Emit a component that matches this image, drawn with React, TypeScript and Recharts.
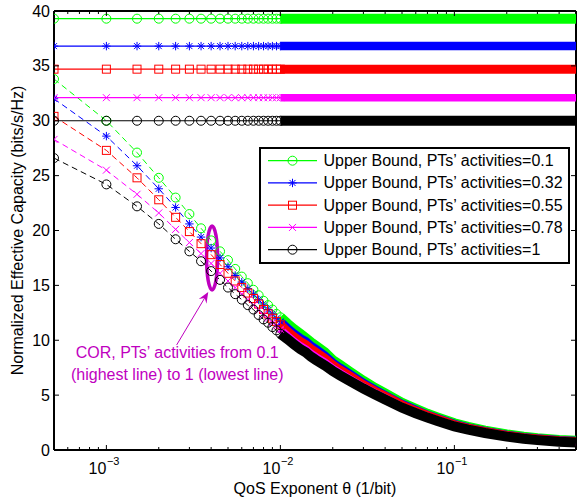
import React from "react";
import { LineChart, Line, XAxis, YAxis, ReferenceLine, ReferenceDot, Legend } from "recharts";

// QoS exponent grid (1/bit)
const THETA = [
  0.0005, 0.001, 0.0015, 0.002, 0.0025, 0.003, 0.0035, 0.004, 0.0045, 0.005,
  0.0055, 0.006, 0.0065, 0.007, 0.0075, 0.008, 0.0085, 0.009, 0.0095, 0.01,
  0.011, 0.012, 0.013, 0.014, 0.015, 0.016, 0.018, 0.02, 0.022, 0.025,
  0.03, 0.035, 0.04, 0.05, 0.06, 0.07, 0.08, 0.1, 0.12, 0.15,
  0.2, 0.25, 0.3, 0.4, 0.5,
];

const ACTIVITY = ["0.1", "0.32", "0.55", "0.78", "1"];
const UPPER = [39.3, 36.8, 34.7, 32.1, 30.0];

// COR curves, one per PTs' activity
const COR_01 = [
  33.8, 30.0, 27.1, 24.8, 23.0, 21.5, 20.2, 19.1, 18.1, 17.3,
  16.5, 15.8, 15.2, 14.6, 14.1, 13.6, 13.2, 12.8, 12.4, 12.1,
  11.5, 11.0, 10.6, 10.2, 9.8, 9.5, 8.9, 8.2, 7.75, 7.15,
  6.3, 5.65, 5.15, 4.3, 3.75, 3.3, 2.97, 2.43, 2.1, 1.77,
  1.42, 1.21, 1.08, 0.92, 0.85,
];
const COR_032 = [
  32.0, 28.6, 25.9, 23.8, 22.1, 20.6, 19.4, 18.4, 17.5, 16.7,
  15.9, 15.3, 14.7, 14.2, 13.7, 13.2, 12.8, 12.4, 12.0, 11.7,
  11.1, 10.6, 10.2, 9.9, 9.5, 9.2, 8.6, 7.95, 7.5, 6.95,
  6.1, 5.5, 5.0, 4.2, 3.65, 3.2, 2.9, 2.36, 2.04, 1.72,
  1.37, 1.16, 1.04, 0.88, 0.81,
];
const COR_055 = [
  30.4, 27.3, 24.8, 22.8, 21.2, 19.9, 18.8, 17.8, 16.9, 16.1,
  15.4, 14.8, 14.3, 13.8, 13.3, 12.8, 12.4, 12.0, 11.7, 11.4,
  10.8, 10.3, 9.9, 9.6, 9.2, 8.9, 8.35, 7.75, 7.3, 6.75,
  5.95, 5.35, 4.9, 4.1, 3.55, 3.15, 2.82, 2.3, 1.98, 1.67,
  1.33, 1.12, 1.0, 0.84, 0.77,
];
const COR_078 = [
  28.3, 25.5, 23.3, 21.6, 20.1, 18.9, 17.9, 17.0, 16.1, 15.4,
  14.8, 14.2, 13.7, 13.2, 12.7, 12.3, 12.0, 11.6, 11.3, 11.0,
  10.4, 9.9, 9.5, 9.2, 8.8, 8.5, 8.0, 7.45, 7.05, 6.5,
  5.75, 5.2, 4.75, 3.95, 3.45, 3.05, 2.73, 2.22, 1.91, 1.6,
  1.27, 1.07, 0.94, 0.79, 0.72,
];
const COR_1 = [
  26.6, 24.2, 22.2, 20.6, 19.2, 18.1, 17.2, 16.3, 15.5, 14.8,
  14.2, 13.7, 13.2, 12.8, 12.3, 11.9, 11.6, 11.2, 10.9, 10.6,
  10.1, 9.6, 9.2, 8.9, 8.5, 8.2, 7.7, 7.2, 6.8, 6.3,
  5.6, 5.05, 4.6, 3.85, 3.35, 2.95, 2.65, 2.15, 1.85, 1.55,
  1.22, 1.02, 0.9, 0.75, 0.68,
];
const COR = [COR_01, COR_032, COR_055, COR_078, COR_1];

const COLORS = ["#00ff00", "#0000ff", "#ff0000", "#ff00ff", "#000000"];
const SHAPES = ["circle", "star", "square", "cross", "circle"];
const BAND_WIDTH: Record<string, number> = { circle: 10, star: 8.5, square: 9, cross: 7.5 };
const BAND_FROM = 0.01; // markers merge into a solid band from here on

const Y_TICKS = [0, 5, 10, 15, 20, 25, 30, 35, 40];
const X_MAJOR = [0.001, 0.01, 0.1];
const X_MAJOR_EXP = ["−3", "−2", "−1"];
const X_MINOR = [
  0.0006, 0.0007, 0.0008, 0.0009,
  0.002, 0.003, 0.004, 0.005, 0.006, 0.007, 0.008, 0.009,
  0.02, 0.03, 0.04, 0.05, 0.06, 0.07, 0.08, 0.09,
  0.2, 0.3, 0.4, 0.5,
];

const FONT = "'Liberation Sans', Arial, Helvetica, sans-serif";
const PURPLE = "#bf00bf";
const W = 578;
const H = 501;
const TOP = 11;
const BOTTOM = 450;
const LEFT = 54;
const RIGHT = 576;

const rows = THETA.map((t, k) => {
  const r: Record<string, number | null> = { theta: t };
  COR.forEach((c, i) => {
    r[`ub${i}`] = UPPER[i];
    r[`cor${i}`] = c[k];
    r[`ubBand${i}`] = t >= BAND_FROM ? UPPER[i] : null;
    r[`corBand${i}`] = t >= BAND_FROM ? c[k] : null;
  });
  return r;
});

function Marker({ shape, cx, cy, color }: { shape: string; cx: number; cy: number; color: string }) {
  if (shape === "circle") return <circle cx={cx} cy={cy} r={4.5} fill="none" stroke={color} strokeWidth={1} />;
  if (shape === "square")
    return <rect x={cx - 4} y={cy - 4} width={8} height={8} fill="none" stroke={color} strokeWidth={1} />;
  if (shape === "cross") {
    const s = 3.5;
    return (
      <path
        d={`M${cx - s},${cy - s}L${cx + s},${cy + s}M${cx - s},${cy + s}L${cx + s},${cy - s}`}
        stroke={color}
        strokeWidth={1}
      />
    );
  }
  const s = 4.2;
  const d = 3;
  return (
    <path
      d={`M${cx},${cy - s}V${cy + s}M${cx - s},${cy}H${cx + s}M${cx - d},${cy - d}L${cx + d},${cy + d}M${cx - d},${cy + d}L${cx + d},${cy - d}`}
      stroke={color}
      strokeWidth={1}
    />
  );
}

// markers are drawn only where they are still told apart; the band covers the rest
const makeDot = (shape: string, color: string, id: string) => (p: any) => {
  const key = `${id}-${p.index}`;
  if (p.cx == null || p.cy == null || p.value == null) return <g key={key} />;
  if (p.payload && p.payload.theta > BAND_FROM) return <g key={key} />;
  return (
    <g key={key}>
      <Marker shape={shape} cx={p.cx} cy={p.cy} color={color} />
    </g>
  );
};

function XTick(props: any) {
  const { x, payload } = props;
  const v = payload.value;
  const major = X_MAJOR.indexOf(v);
  const len = major >= 0 ? 5 : 3;
  return (
    <g>
      <line x1={x} x2={x} y1={BOTTOM} y2={BOTTOM - len} stroke="#000" strokeWidth={1} />
      <line x1={x} x2={x} y1={TOP} y2={TOP + len} stroke="#000" strokeWidth={1} />
      {major >= 0 && (
        <text x={x} y={BOTTOM + 24} fontFamily={FONT} fontSize={16} fill="#000">
          <tspan textAnchor="end">10</tspan>
        </text>
      )}
      {major >= 0 && (
        <text x={x + 0.5} y={BOTTOM + 15} fontFamily={FONT} fontSize={11} fill="#000">
          {X_MAJOR_EXP[major]}
        </text>
      )}
    </g>
  );
}

function YTick(props: any) {
  const { y, payload } = props;
  return (
    <g>
      <line x1={LEFT} x2={LEFT + 5} y1={y} y2={y} stroke="#000" strokeWidth={1} />
      <line x1={RIGHT} x2={RIGHT - 5} y1={y} y2={y} stroke="#000" strokeWidth={1} />
      <text x={LEFT - 4} y={y} textAnchor="end" dominantBaseline="central" fontFamily={FONT} fontSize={16} fill="#000">
        {payload.value}
      </text>
    </g>
  );
}

function LegendBox() {
  return (
    <div
      style={{
        width: 311,
        height: 117,
        border: "2px solid #000",
        background: "#fff",
        boxSizing: "border-box",
      }}
    >
      <svg width={307} height={113} style={{ display: "block" }}>
        {ACTIVITY.map((a, i) => {
          const cy = 11.7 + i * 22.25;
          return (
            <g key={a}>
              <line x1={7} x2={56} y1={cy} y2={cy} stroke={COLORS[i]} strokeWidth={1.2} />
              <Marker shape={SHAPES[i]} cx={31.5} cy={cy} color={COLORS[i]} />
              <text x={62.5} y={cy} dominantBaseline="central" fontFamily={FONT} fontSize={16} fill="#000">
                {`Upper Bound, PTs’ activities=${a}`}
              </text>
            </g>
          );
        })}
      </svg>
    </div>
  );
}

function Ellipse(p: any) {
  return <ellipse cx={p.cx} cy={p.cy} rx={5.5} ry={32} fill="none" stroke={PURPLE} strokeWidth={3.5} />;
}

function ArrowNote(p: any) {
  const tx = p.cx;
  const ty = p.cy;
  const sx = tx - 31.6;
  const sy = ty + 53;
  const len = Math.hypot(tx - sx, ty - sy);
  const ux = (tx - sx) / len;
  const uy = (ty - sy) / len;
  const nx = -uy;
  const ny = ux;
  const bx = tx - 11 * ux;
  const by = ty - 11 * uy;
  const head = `M${tx},${ty}L${bx + 4.5 * nx},${by + 4.5 * ny}L${tx - 7 * ux},${ty - 7 * uy}L${bx - 4.5 * nx},${by - 4.5 * ny}Z`;
  return (
    <g>
      <line x1={sx} y1={sy} x2={tx - 6 * ux} y2={ty - 6 * uy} stroke={PURPLE} strokeWidth={1} />
      <path d={head} fill={PURPLE} />
      <text x={tx - 31} y={ty + 66.5} textAnchor="middle" fontFamily={FONT} fontSize={16} fill={PURPLE}>
        COR, PTs’ activities from 0.1
      </text>
      <text x={tx - 31} y={ty + 88.5} textAnchor="middle" fontFamily={FONT} fontSize={16} fill={PURPLE}>
        (highest line) to 1 (lowest line)
      </text>
    </g>
  );
}

export default function App() {
  return (
    <div style={{ width: W, height: H, background: "#fff" }}>
      <style>{"body{margin:0}"}</style>
      <LineChart width={W} height={H} data={rows} margin={{ top: TOP, right: W - RIGHT, left: 0, bottom: 0 }}>
        <XAxis
          dataKey="theta"
          type="number"
          scale="log"
          domain={[0.0005, 0.5]}
          allowDataOverflow
          ticks={[...X_MAJOR, ...X_MINOR]}
          interval={0}
          tickLine={false}
          axisLine={{ stroke: "#000", strokeWidth: 2 }}
          tick={<XTick />}
          height={H - BOTTOM}
          label={{
            content: () => (
              <text x={(LEFT + RIGHT) / 2} y={BOTTOM + 44} textAnchor="middle" fontFamily={FONT} fontSize={16} fill="#000">
                QoS Exponent θ (1/bit)
              </text>
            ),
          }}
        />
        <YAxis
          type="number"
          domain={[0, 40]}
          allowDataOverflow
          ticks={Y_TICKS}
          interval={0}
          tickLine={false}
          axisLine={{ stroke: "#000", strokeWidth: 2 }}
          tick={<YTick />}
          width={LEFT}
          label={{
            content: () => (
              <text
                x={17}
                y={(TOP + BOTTOM) / 2}
                transform={`rotate(-90 17 ${(TOP + BOTTOM) / 2})`}
                textAnchor="middle"
                dominantBaseline="central"
                fontFamily={FONT}
                fontSize={16}
                fill="#000"
              >
                Normalized Effective Capacity (bits/s/Hz)
              </text>
            ),
          }}
        />
        <ReferenceLine y={40} stroke="#000" strokeWidth={2} />
        <ReferenceLine x={0.5} stroke="#000" strokeWidth={2} />

        {COLORS.flatMap((color, i) => {
          const shape = SHAPES[i];
          const bw = BAND_WIDTH[shape];
          return [
            <Line
              key={`ubBand${i}`}
              dataKey={`ubBand${i}`}
              stroke={color}
              strokeWidth={bw}
              dot={false}
              activeDot={false}
              legendType="none"
              isAnimationActive={false}
            />,
            <Line
              key={`ub${i}`}
              dataKey={`ub${i}`}
              stroke={color}
              strokeWidth={1.2}
              dot={makeDot(shape, color, `ub${i}`)}
              activeDot={false}
              legendType="none"
              isAnimationActive={false}
            />,
            <Line
              key={`corBand${i}`}
              dataKey={`corBand${i}`}
              stroke={color}
              strokeWidth={bw}
              dot={false}
              activeDot={false}
              legendType="none"
              isAnimationActive={false}
            />,
            <Line
              key={`cor${i}`}
              dataKey={`cor${i}`}
              stroke={color}
              strokeWidth={1}
              strokeDasharray="6 4"
              dot={makeDot(shape, color, `cor${i}`)}
              activeDot={false}
              legendType="none"
              isAnimationActive={false}
            />,
          ];
        })}

        <ReferenceDot x={0.00405} y={17.5} r={0} shape={<Ellipse />} />
        <ReferenceDot x={0.00385} y={14.4} r={0} shape={<ArrowNote />} />

        <Legend
          layout="vertical"
          align="center"
          verticalAlign="middle"
          wrapperStyle={{ left: 259, top: 147, width: 311, height: 117 }}
          content={() => <LegendBox />}
        />
      </LineChart>
    </div>
  );
}
